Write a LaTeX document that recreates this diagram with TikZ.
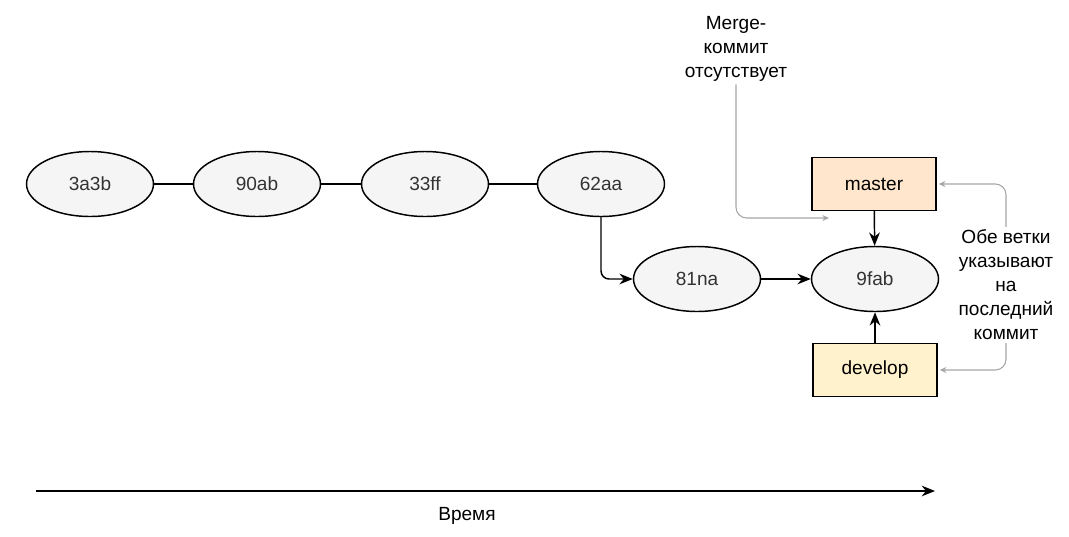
\documentclass[tikz,border=0pt]{standalone}
\usepackage{fontspec}
\setmainfont{Liberation Sans}
\usetikzlibrary{shapes.geometric,arrows.meta}
\definecolor{commitfill}{HTML}{F5F5F5}
\definecolor{committext}{HTML}{333333}
\definecolor{masterfill}{HTML}{FFE6CC}
\definecolor{developfill}{HTML}{FFF2CC}
\definecolor{notegray}{HTML}{A6A6A6}
\begin{document}
\begin{tikzpicture}[x=0.75pt,y=-0.75pt,
  commit/.style={ellipse,draw,line width=1.1pt,fill=commitfill,text=committext,
    minimum width=95.25pt,minimum height=48.75pt,inner sep=0pt,
    font=\fontsize{14.3}{17}\selectfont},
  branch/.style={rectangle,draw,line width=1.1pt,minimum width=93pt,
    minimum height=39.75pt,inner sep=0pt,font=\fontsize{14.3}{17}\selectfont},
  note/.style={align=center,font=\fontsize{14.3}{18}\selectfont,inner sep=2pt},
  link/.style={line width=1.1pt},
  arr/.style={line width=1.1pt,-{Stealth[length=10pt,width=8pt]}},
  notearr/.style={draw=notegray,line width=0.8pt,rounded corners=8pt,
    -{Stealth[length=5pt,width=4.5pt]}}
]
\useasboundingbox (0,0) rectangle (1069,536);
\node[commit] (c1) at (90,184) {3a3b};
\node[commit] (c2) at (257,184) {90ab};
\node[commit] (c3) at (425,184) {33ff};
\node[commit] (c4) at (601,184) {62aa};
\node[commit] (c5) at (697,279) {81na};
\node[commit] (c6) at (875,279) {9fab};
\node[branch,fill=masterfill] (master) at (874,184) {master};
\node[branch,fill=developfill] (develop) at (875,370) {develop};
\node[note] (merge) at (736,49) {Merge-\\коммит\\отсутствует};
\node[note] (both) at (1006,285) {Обе ветки\\указывают\\на\\последний\\коммит};
\coordinate (mergetip) at (829,218);
\coordinate (t0) at (36,491);
\coordinate (t1) at (935,491);
\node[note] (time) at (467,516) {Время};
\draw[link] (c1) -- (c2);
\draw[link] (c2) -- (c3);
\draw[link] (c3) -- (c4);
\draw[arr,rounded corners=6pt] (c4.south) |- (c5.west);
\draw[arr] (c5) -- (c6);
\draw[arr] (master) -- (c6);
\draw[arr] (develop) -- (c6);
\draw[notearr] (merge.south) |- (mergetip);
\draw[notearr] (both.north) |- ([xshift=1.5pt]master.east);
\draw[notearr] (both.south) |- ([xshift=1.5pt]develop.east);
\draw[arr] (t0) -- (t1);
\end{tikzpicture}
\end{document}
